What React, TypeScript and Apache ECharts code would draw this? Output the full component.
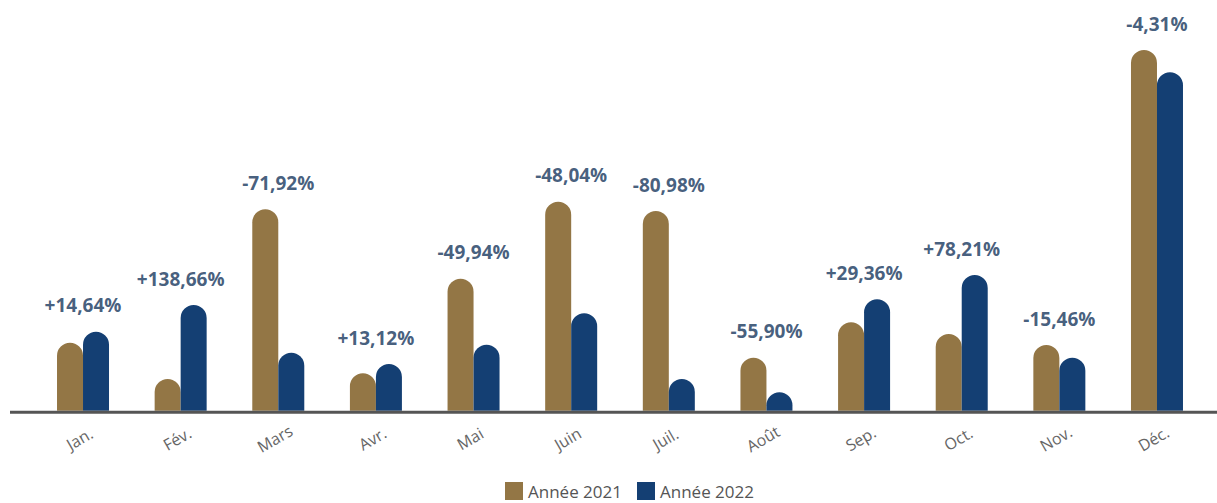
import React, { useEffect, useRef } from "react";
import * as echarts from "echarts";

const categories = ["Jan.", "Fév.", "Mars", "Avr.", "Mai", "Juin", "Juil.", "Août", "Sep.", "Oct.", "Nov.", "Déc."];
const values2021 = [68, 31.7, 201.4, 37.4, 132, 209, 199.7, 53, 88.4, 76.7, 65.7, 360.7];
const values2022 = [79, 105.7, 58, 46.7, 66, 97.4, 31.7, 18.4, 111.4, 135.7, 53, 338.4];
const changeLabels = ["+14,64%", "+138,66%", "-71,92%", "+13,12%", "-49,94%", "-48,04%", "-80,98%", "-55,90%", "+29,36%", "+78,21%", "-15,46%", "-4,31%"];
const seriesNames = ["Année 2021", "Année 2022"];

const GOLD = "#937645";
const BLUE = "#143F73";
const FONT = "'Open Sans', 'Noto Sans', sans-serif";

export default function App() {
  const ref = useRef<HTMLDivElement>(null);
  useEffect(() => {
    if (!ref.current) return;
    const chart = echarts.init(ref.current, null, { renderer: "svg" });
    const maxVals = values2021.map((v, i) => Math.max(v, values2022[i]));
    chart.setOption({
      animation: false,
      textStyle: { fontFamily: FONT },
      grid: { left: 34.2, right: 11.2, top: 10.7, bottom: 92.3, containLabel: false },
      legend: {
        left: 500,
        top: 477,
        itemWidth: 18,
        itemHeight: 18,
        itemGap: 15,
        icon: "rect",
        textStyle: { fontSize: 17, color: "#555", fontFamily: FONT },
        data: seriesNames,
      },
      xAxis: {
        type: "category",
        data: categories,
        axisLine: { show: false },
        axisTick: { show: false },
        axisLabel: {
          rotate: 30,
          align: "center",
          verticalAlign: "middle",
          margin: 26,
          color: "#666",
          fontSize: 16,
          fontFamily: FONT,
          interval: 0,
          padding: [0, 8, 0, 0],
        },
      },
      yAxis: {
        type: "value",
        min: 0,
        max: 400,
        show: false,
        splitLine: { show: false },
      },
      graphic: [
        {
          type: "line",
          shape: { x1: 10, y1: 412.2, x2: 1217, y2: 412.2 },
          style: { stroke: "#555", lineWidth: 3 },
          z: 10,
        },
      ],
      series: [
        {
          name: seriesNames[0],
          type: "bar",
          data: values2021,
          barWidth: 26,
          barGap: "0%",
          itemStyle: { color: GOLD, borderRadius: [13, 13, 0, 0] },
        },
        {
          name: seriesNames[1],
          type: "bar",
          data: values2022,
          barWidth: 26,
          barGap: "0%",
          itemStyle: { color: BLUE, borderRadius: [13, 13, 0, 0] },
        },
        {
          name: "labels",
          type: "scatter",
          data: maxVals,
          symbolSize: 0,
          silent: true,
          label: {
            show: true,
            position: "top",
            distance: 17,
            formatter: (p: any) => changeLabels[p.dataIndex],
            color: "#15355C",
            fontSize: 19,
            fontWeight: "bold",
            fontFamily: FONT,
          },
        },
      ],
    });
    return () => chart.dispose();
  }, []);
  return (
    <div
      ref={ref}
      style={{ position: "absolute", left: 0, top: 0, width: 1217, height: 503, background: "#fff" }}
    />
  );
}
